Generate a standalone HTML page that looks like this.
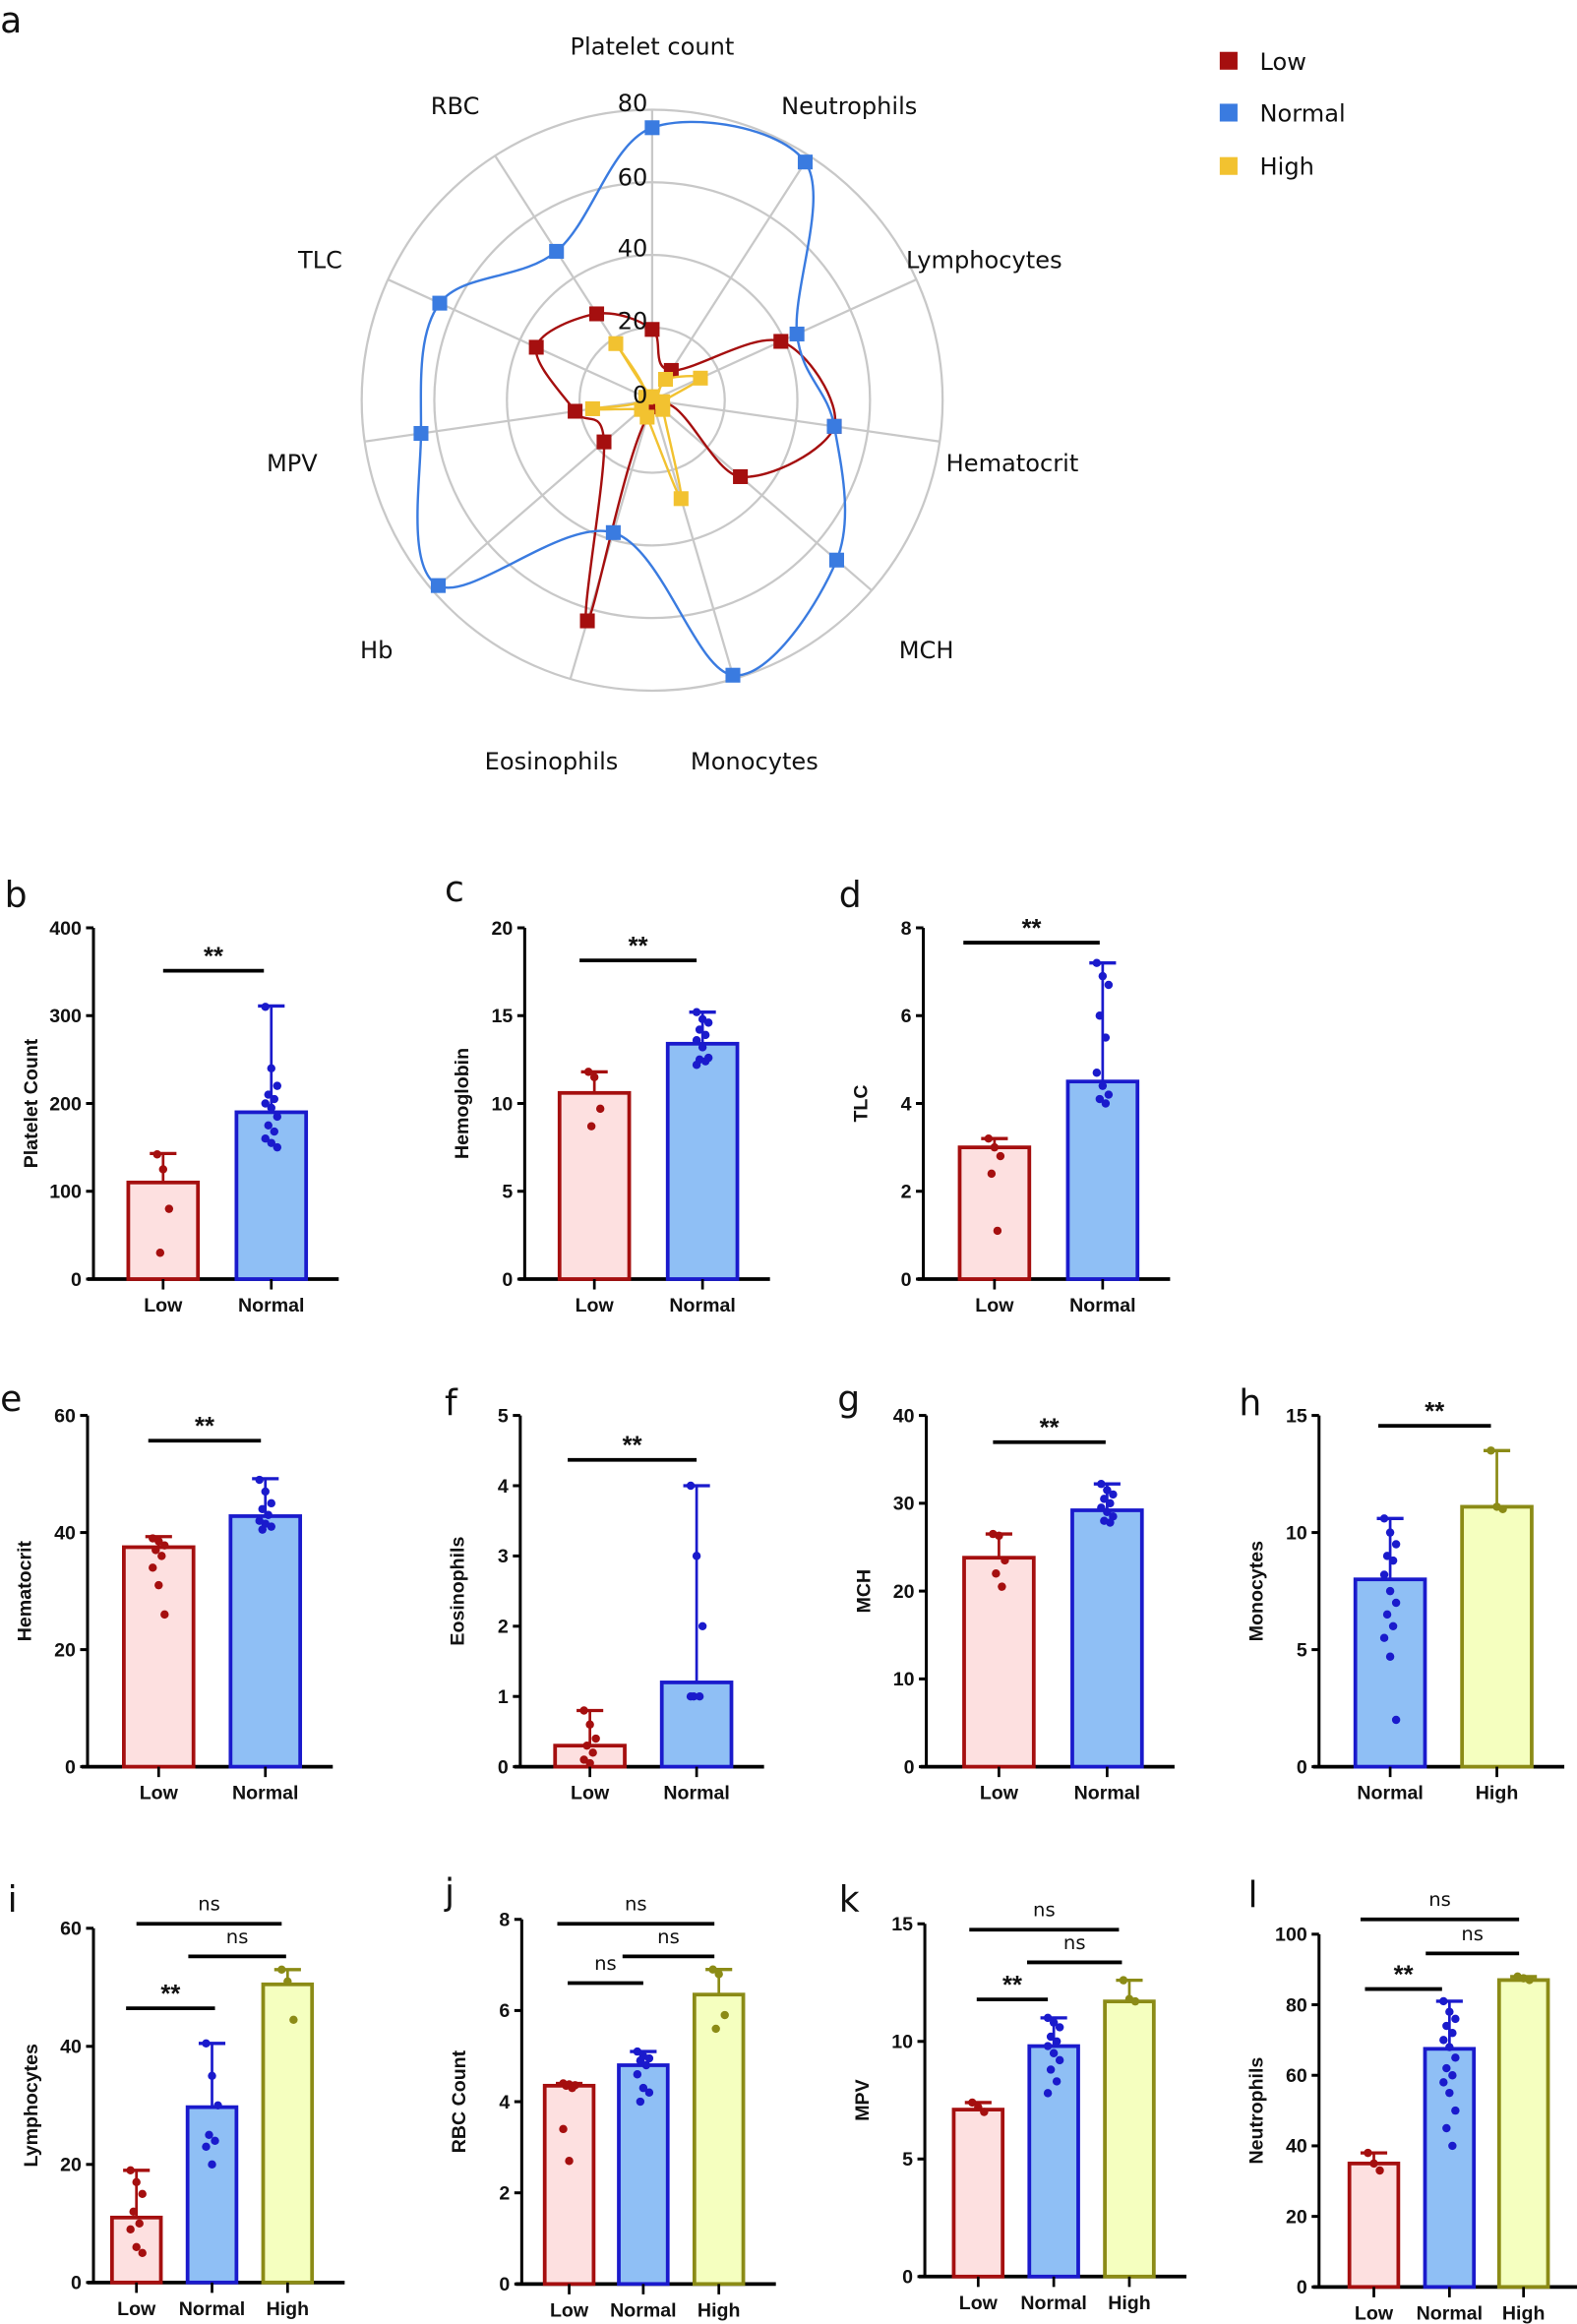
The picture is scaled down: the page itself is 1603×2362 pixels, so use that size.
<!DOCTYPE html>
<html><head><meta charset="utf-8"><style>
html,body{margin:0;padding:0;background:#fff}
svg{display:block}
.t{font-family:"DejaVu Sans","Liberation Sans",sans-serif;fill:#111}
.b{font-family:"Liberation Sans",sans-serif;font-weight:bold;fill:#111}
</style></head><body>
<svg id="s" width="1603" height="2362" viewBox="0 0 1064 1568" xmlns="http://www.w3.org/2000/svg">
<rect width="1064" height="1568" fill="#fff"/>
<g id="radar"></g>
<text class="t" x="0" y="22" font-size="24">a</text>
<text class="t" x="440" y="37" font-size="16" text-anchor="middle">Platelet count</text>
<text class="t" x="573" y="77" font-size="16" text-anchor="middle">Neutrophils</text>
<text class="t" x="664" y="181" font-size="16" text-anchor="middle">Lymphocytes</text>
<text class="t" x="683" y="318" font-size="16" text-anchor="middle">Hematocrit</text>
<text class="t" x="625" y="444" font-size="16" text-anchor="middle">MCH</text>
<text class="t" x="509" y="519" font-size="16" text-anchor="middle">Monocytes</text>
<text class="t" x="372" y="519" font-size="16" text-anchor="middle">Eosinophils</text>
<text class="t" x="254" y="444" font-size="16" text-anchor="middle">Hb</text>
<text class="t" x="197" y="318" font-size="16" text-anchor="middle">MPV</text>
<text class="t" x="216" y="181" font-size="16" text-anchor="middle">TLC</text>
<text class="t" x="307" y="77" font-size="16" text-anchor="middle">RBC</text>
<text class="t" x="437" y="75" font-size="16" text-anchor="end">80</text>
<text class="t" x="437" y="125" font-size="16" text-anchor="end">60</text>
<text class="t" x="437" y="173" font-size="16" text-anchor="end">40</text>
<text class="t" x="437" y="222" font-size="16" text-anchor="end">20</text>
<text class="t" x="437" y="272" font-size="16" text-anchor="end">0</text>
<rect x="823" y="35" width="12" height="12" fill="#a50f0f"/>
<text class="t" x="850" y="47" font-size="16">Low</text>
<rect x="823" y="70" width="12" height="12" fill="#3a7be0"/>
<text class="t" x="850" y="82" font-size="16">Normal</text>
<rect x="823" y="106" width="12" height="12" fill="#f2c230"/>
<text class="t" x="850" y="118" font-size="16">High</text>
<g id="bars"></g>
</svg>
<script>
var NS="http://www.w3.org/2000/svg";
function el(p,tag,a,txt){var e=document.createElementNS(NS,tag);for(var k in a)e.setAttribute(k,a[k]);if(txt!==undefined)e.textContent=txt;p.appendChild(e);return e;}
var R=document.getElementById('radar'),cx=440,cy=270,rmax=191,rring=196;
for(var i=1;i<=4;i++)el(R,'circle',{cx:cx,cy:cy,r:rring*i/4,fill:'none',stroke:'#c8c8c8','stroke-width':1.5});
var N=11;function pt(k,v,rm){var a=k*2*Math.PI/N;var r=v/80*(rm||rmax);return[cx+r*Math.sin(a),cy-r*Math.cos(a)];}
for(var k=0;k<N;k++){var p=pt(k,80,rring);el(R,'line',{x1:cx,y1:cy,x2:p[0],y2:p[1],stroke:'#c8c8c8','stroke-width':1.5});}
var series=[
 ['#a50f0f',[20,10,40,52,33,2,65,18,22,36,29]],
 ['#3a7be0',[77,80,45,52,69,81,39,80,66,66,50]],
 ['#f2c230',[1,7,15,3,4,29,5,4,17,2,19]]];
series.forEach(function(s){
 var P=s[1].map(function(v,k){return pt(k,v);});var n=P.length;var d='M'+P[0][0]+','+P[0][1];
 for(var i=0;i<n;i++){var p0=P[(i-1+n)%n],p1=P[i],p2=P[(i+1)%n],p3=P[(i+2)%n];
  var c1=[p1[0]+(p2[0]-p0[0])/6,p1[1]+(p2[1]-p0[1])/6],c2=[p2[0]-(p3[0]-p1[0])/6,p2[1]-(p3[1]-p1[1])/6];
  d+=' C'+c1+' '+c2+' '+p2;}
 el(R,'path',{d:d,fill:'none',stroke:s[0],'stroke-width':1.6});
 P.forEach(function(p){el(R,'rect',{x:p[0]-5,y:p[1]-5,width:10,height:10,fill:s[0]});});
});
var C={L:['#fde0e0','#a50f0f'],N:['#8fbff5','#1a1acc'],H:['#f5ffbf','#8b8b16']};
var names={L:'Low',N:'Normal',H:'High'};
var B=document.getElementById('bars');
var panels=[
 {l:'b',lx:3,ly:612,ax:63,y0:863,yt:626,max:400,st:100,lab:'Platelet Count',w:47,bars:[[110,'L',110,143,[142,125,80,30]],[183,'N',190,311,[310,240,220,210,205,200,195,185,175,168,160,155,150]]],sig:[[110,178,655,'**']]},
 {l:'c',lx:300,ly:608,ax:354,y0:863,yt:626,max:20,st:5,lab:'Hemoglobin',w:47,bars:[[401,'L',10.6,11.8,[11.8,11.5,9.7,8.7]],[474,'N',13.4,15.2,[15.2,14.8,14.6,14.2,13.9,13.6,13.2,12.6,12.5,12.4,12.2]]],sig:[[391,470,648,'**']]},
 {l:'d',lx:566,ly:612,ax:623,y0:863,yt:626,max:8,st:2,lab:'TLC',w:47,bars:[[671,'L',3.0,3.2,[3.2,3.0,2.8,2.4,1.1]],[744,'N',4.5,7.2,[7.2,6.9,6.7,6.0,5.5,4.7,4.4,4.2,4.1,4.0]]],sig:[[650,742,636,'**']]},
 {l:'e',lx:0,ly:952,ax:59,y0:1192,yt:955,max:60,st:20,lab:'Hematocrit',w:47,bars:[[107,'L',37.5,39.3,[39,38.5,37.8,37,36,34,31,26]],[179,'N',42.8,49.2,[49,47,45,44,43,42,41.5,41,40.5]]],sig:[[100,176,972,'**']]},
 {l:'f',lx:300,ly:955,ax:351,y0:1192,yt:955,max:5,st:1,lab:'Eosinophils',w:47,bars:[[398,'L',0.3,0.8,[0.8,0.6,0.4,0.3,0.2,0.1,0.05]],[470,'N',1.2,4.0,[4,3,2,1,1,1]]],sig:[[383,470,985,'**']]},
 {l:'g',lx:565,ly:952,ax:625,y0:1192,yt:955,max:40,st:10,lab:'MCH',w:47,bars:[[674,'L',23.8,26.5,[26.5,26.3,23.5,22,20.5]],[747,'N',29.2,32.2,[32.2,31.5,31,30.5,30,29.5,29,28.5,28,27.8]]],sig:[[670,746,973,'**']]},
 {l:'h',lx:836,ly:955,ax:890,y0:1192,yt:955,max:15,st:5,lab:'Monocytes',w:47,bars:[[938,'N',8.0,10.6,[10.6,10,9.5,9,8.8,8.2,7.5,7,6.5,6,5.5,4.7,2]],[1010,'H',11.1,13.5,[13.5,11.1,11]]],sig:[[930,1006,962,'**']]},
 {l:'i',lx:5,ly:1290,ax:63,y0:1540,yt:1301,max:60,st:20,lab:'Lymphocytes',w:33,bars:[[92,'L',11,19,[19,17,15,12,10,9,6,5]],[143,'N',29.7,40.5,[40.5,35,30,25,24,23,20]],[194,'H',50.5,53,[53,51,44.5]]],sig:[[85,145,1355,'**'],[127,193,1320,'ns'],[92,190,1298,'ns']]},
 {l:'j',lx:300,ly:1285,ax:352,y0:1541,yt:1295,max:8,st:2,lab:'RBC Count',w:33,bars:[[384,'L',4.35,4.4,[4.4,4.38,4.36,4.35,4.3,3.4,2.7]],[434,'N',4.8,5.1,[5.1,5.0,4.95,4.9,4.8,4.6,4.3,4.2,4.0]],[485,'H',6.35,6.9,[6.9,6.8,5.9,5.6]]],sig:[[383,434,1338,'ns'],[420,482,1320,'ns'],[376,482,1298,'ns']]},
 {l:'k',lx:566,ly:1290,ax:624,y0:1536,yt:1298,max:15,st:5,lab:'MPV',w:33,bars:[[660,'L',7.1,7.4,[7.4,7.2,7.0]],[711,'N',9.8,11,[11,10.8,10.6,10.2,10,9.8,9.5,9.2,8.8,8.3,7.8]],[762,'H',11.7,12.6,[12.6,11.8,11.7]]],sig:[[659,707,1349,'**'],[693,757,1324,'ns'],[654,755,1302,'ns']]},
 {l:'l',lx:842,ly:1287,ax:890,y0:1543,yt:1305,max:100,st:20,lab:'Neutrophils',w:33,bars:[[927,'L',35,38,[38,35,33]],[978,'N',67.5,81,[81,78,76,74,72,70,68,65,62,60,58,55,50,45,40]],[1028,'H',87,88,[88,87.5,87]]],sig:[[921,973,1342,'**'],[962,1025,1318,'ns'],[918,1025,1295,'ns']]}
];
panels.forEach(function(P){
 var Y=function(v){return P.y0-(P.y0-P.yt)*v/P.max;};
 el(B,'text',{class:'t',x:P.lx,y:P.ly,'font-size':24},P.l);
 var last=P.bars[P.bars.length-1][0];
 el(B,'line',{x1:P.ax,y1:P.yt,x2:P.ax,y2:P.y0+1,stroke:'#000','stroke-width':2});
 el(B,'line',{x1:P.ax-4,y1:P.y0,x2:last+P.w/2+22,y2:P.y0,stroke:'#000','stroke-width':2.5});
 for(var v=0;v<=P.max+1e-9;v+=P.st){var y=Y(v);el(B,'line',{x1:P.ax-5,y1:y,x2:P.ax,y2:y,stroke:'#000','stroke-width':2});
  el(B,'text',{class:'b',x:P.ax-8,y:y+4.5,'font-size':13,'text-anchor':'end'},String(Math.round(v*10)/10));}
 var my=(P.y0+P.yt)/2;
 el(B,'text',{class:'b',x:0,y:0,'font-size':13,'text-anchor':'middle',transform:'translate('+(P.ax-38)+','+my+') rotate(-90)'},P.lab);
 P.bars.forEach(function(b){
  var x=b[0],c=C[b[1]],yv=Y(b[2]);
  el(B,'rect',{x:x-P.w/2,y:yv,width:P.w,height:P.y0-yv,fill:c[0],stroke:c[1],'stroke-width':2.5});
  el(B,'line',{x1:x,y1:yv,x2:x,y2:Y(b[3]),stroke:c[1],'stroke-width':1.8});
  el(B,'line',{x1:x-9,y1:Y(b[3]),x2:x+9,y2:Y(b[3]),stroke:c[1],'stroke-width':2.2});
  b[4].forEach(function(d,i){var off=((i*7)%5-2)*2;el(B,'circle',{cx:x+off,cy:Y(d),r:2.8,fill:c[1]});});
  el(B,'line',{x1:x,y1:P.y0,x2:x,y2:P.y0+7,stroke:'#000','stroke-width':1.8});
  el(B,'text',{class:'b',x:x,y:P.y0+22,'font-size':13,'text-anchor':'middle'},names[b[1]]);
 });
 P.sig.forEach(function(s){
  el(B,'line',{x1:s[0],y1:s[2],x2:s[1],y2:s[2],stroke:'#000','stroke-width':2.5});
  el(B,'text',{class:s[3]=='**'?'b':'t',x:(s[0]+s[1])/2,y:s[3]=='**'?s[2]-4:s[2]-9,'font-size':s[3]=='**'?17:13,'text-anchor':'middle'},s[3]);
 });
});
</script>
</body></html>
